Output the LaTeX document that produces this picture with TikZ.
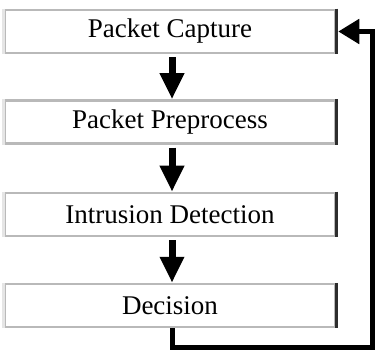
\documentclass[tikz,border=0pt]{standalone}
\usepackage{fontspec}
\setmainfont{Liberation Serif}
\usetikzlibrary{arrows.meta,calc}
\begin{document}
\begin{tikzpicture}[x=1pt,y=1pt,
  stagebox/.style={draw=gray!55, line width=2.5pt, minimum width=330pt, minimum height=43pt,
    inner sep=0pt, font=\fontsize{27}{31}\selectfont, text=black},
  flowarrow/.style={line width=7pt, -{Triangle[length=26pt,width=23pt]}},
  backarrow/.style={line width=5pt, line join=miter, -{Triangle[length=21pt,width=24pt]}}]
\useasboundingbox (0,0) rectangle (377,-355);
\node[stagebox] (cap) at (170,-31.5) {Packet Capture};
\node[stagebox] (pre) at (170,-122) {Packet Preprocess};
\node[stagebox] (ids) at (170,-214.5) {Intrusion Detection};
\node[stagebox] (dec) at (170,-305.5) {Decision};
\foreach \n in {cap,pre,ids,dec}{
  \draw[gray!35!black, line width=2.5pt] (\n.north east) -- (\n.south east);
  \draw[white!80!gray, line width=2.6pt] (\n.north west) -- (\n.south west);
}
\draw[flowarrow] ($(cap.south)+(2,-3)$) -- ($(pre.north)+(2,0)$);
\draw[flowarrow] ($(pre.south)+(2,-3)$) -- ($(ids.north)+(2,0)$);
\draw[flowarrow] ($(ids.south)+(2,-3)$) -- ($(dec.north)+(2,0)$);
\coordinate (c2) at (372,-347);
\coordinate (c3) at (372,-31.5);
\coordinate (d0) at ($(dec.south)+(2,0)$);
\draw[backarrow] (d0) -- (d0 |- c2) -- (c2) -- (c3) -- ($(cap.east)+(2,0)$);
\end{tikzpicture}
\end{document}
